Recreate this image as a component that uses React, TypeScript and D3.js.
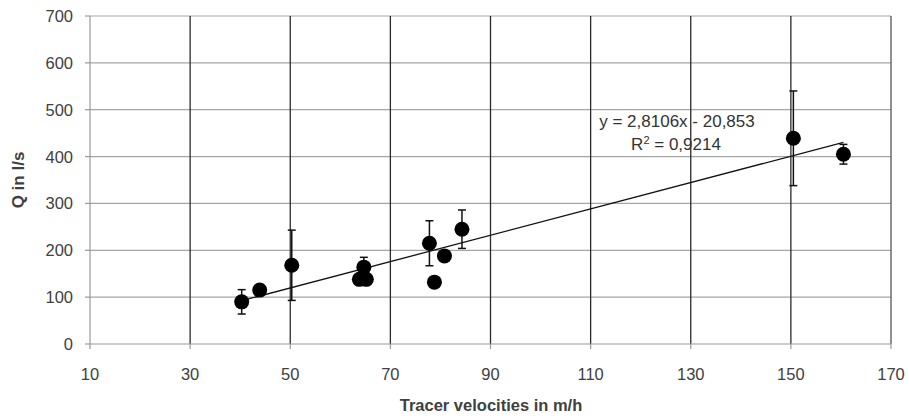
import { line, scaleLinear } from "d3";

const velocities = [40.3, 43.9, 50.3, 63.8, 65.2, 64.7, 77.8, 80.8, 78.8, 84.3, 150.5, 160.5];
const discharges = [90, 115, 168, 138, 138, 164, 215, 188, 132, 245, 439, 405];
const errors = [26, 0, 75, 0, 0, 21, 48, 0, 0, 41, 101, 21];

const xTicks = [10, 30, 50, 70, 90, 110, 130, 150, 170];
const yTicks = [0, 100, 200, 300, 400, 500, 600, 700];

const slope = 2.8106;
const intercept = -20.853;
const equationLabel = "y = 2,8106x - 20,853";
const rSquaredValue = "0,9214";

const width = 909;
const height = 419;
const plot = { left: 90, right: 891, top: 16, bottom: 344 };
const font = "'Liberation Sans', Arial, sans-serif";

export default function App(): React.JSX.Element {
  const x = scaleLinear().domain([10, 170]).range([plot.left, plot.right]);
  const y = scaleLinear().domain([0, 700]).range([plot.bottom, plot.top]);

  const xMin = Math.min(...velocities);
  const xMax = Math.max(...velocities);
  const trend =
    line<number>()
      .x((v) => x(v))
      .y((v) => y(slope * v + intercept))([xMin, xMax]) ?? "";

  return (
    <svg
      width={width}
      height={height}
      style={{ position: "absolute", left: 0, top: 0, background: "#fff" }}
      fontFamily={font}
    >
      {yTicks.slice(1).map((t) => (
        <line
          key={`h${t}`}
          x1={plot.left}
          x2={plot.right}
          y1={y(t)}
          y2={y(t)}
          stroke="#a6a6a6"
          strokeWidth={1.2}
        />
      ))}
      {xTicks.slice(1).map((t) => (
        <line
          key={`v${t}`}
          x1={x(t)}
          x2={x(t)}
          y1={plot.top}
          y2={plot.bottom}
          stroke={t === 170 ? "#555" : "#2a2a2a"}
          strokeWidth={1.3}
        />
      ))}
      <line x1={plot.left} x2={plot.left} y1={plot.top} y2={plot.bottom} stroke="#999" strokeWidth={1.2} />
      <line x1={plot.left} x2={plot.right} y1={plot.bottom} y2={plot.bottom} stroke="#999" strokeWidth={1.2} />
      {yTicks.map((t) => (
        <g key={`yt${t}`}>
          <line x1={plot.left - 5} x2={plot.left} y1={y(t)} y2={y(t)} stroke="#999" strokeWidth={1.2} />
          <text x={plot.left - 17} y={y(t) + 6} textAnchor="end" fontSize={16.5} fill="#404040">
            {t}
          </text>
        </g>
      ))}
      {xTicks.map((t) => (
        <g key={`xt${t}`}>
          <line x1={x(t)} x2={x(t)} y1={plot.bottom} y2={plot.bottom + 5} stroke="#999" strokeWidth={1.2} />
          <text x={x(t)} y={plot.bottom + 36} textAnchor="middle" fontSize={16.5} fill="#404040">
            {t}
          </text>
        </g>
      ))}

      <path d={trend} fill="none" stroke="#111" strokeWidth={1.3} />

      {velocities.map((v, i) =>
        errors[i] > 0 ? (
          <g key={`e${i}`} stroke="#111" strokeWidth={1.5}>
            <line x1={x(v)} x2={x(v)} y1={y(discharges[i] - errors[i])} y2={y(discharges[i] + errors[i])} />
            <line x1={x(v) - 4} x2={x(v) + 4} y1={y(discharges[i] + errors[i])} y2={y(discharges[i] + errors[i])} />
            <line x1={x(v) - 4} x2={x(v) + 4} y1={y(discharges[i] - errors[i])} y2={y(discharges[i] - errors[i])} />
          </g>
        ) : null
      )}
      {velocities.map((v, i) => (
        <circle key={`p${i}`} cx={x(v)} cy={y(discharges[i])} r={7.5} fill="#000" />
      ))}

      <text x={677} y={127} textAnchor="middle" fontSize={17} fill="#333">
        {equationLabel}
      </text>
      <text x={676} y={150} textAnchor="middle" fontSize={17} fill="#333">
        R<tspan dy={-6} fontSize={11}>2</tspan>
        <tspan dy={6}>{` = ${rSquaredValue}`}</tspan>
      </text>

      <text
        x={491}
        y={411}
        textAnchor="middle"
        fontSize={16.5}
        fontWeight="bold"
        fill="#404040"
      >
        Tracer velocities in m/h
      </text>
      <text
        transform={`translate(24, 180) rotate(-90)`}
        textAnchor="middle"
        fontSize={17}
        fontWeight="bold"
        fill="#404040"
      >
        Q in l/s
      </text>
    </svg>
  );
}
